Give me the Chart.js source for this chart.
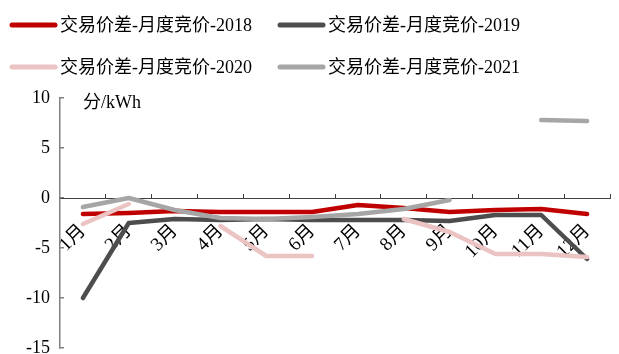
<!DOCTYPE html>
<html>
<head>
<meta charset="utf-8">
<script src="https://cdn.jsdelivr.net/npm/chart.js@4/dist/chart.umd.min.js"></script>
<style>
  html, body { margin: 0; padding: 0; background: #fff; }
  #wrap { width: 619px; height: 354px; }
</style>
</head>
<body>
<div id="wrap"><canvas id="myChart" width="619" height="354"></canvas></div>
<script>
// monthly spread between traded price and monthly auction price, fen/kWh
const months = ['1月', '2月', '3月', '4月', '5月', '6月', '7月', '8月', '9月', '10月', '11月', '12月'];
const seriesNames = ['交易价差-月度竞价-2018', '交易价差-月度竞价-2019', '交易价差-月度竞价-2020', '交易价差-月度竞价-2021'];
const spread2018 = [-1.6, -1.5, -1.3, -1.4, -1.4, -1.4, -0.7, -1.0, -1.4, -1.2, -1.1, -1.6];
const spread2019 = [-10, -2.5, -2.1, -2.2, -2.1, -2.2, -2.2, -2.2, -2.3, -1.7, -1.7, -6.1];
const spread2020 = [-2.6, -0.6, null, -2.8, -5.8, -5.8, null, -2.1, -3.4, -5.6, -5.6, -5.9];
const spread2021 = [-0.9, 0.0, -1.2, -2.0, -2.1, -1.9, -1.6, -1.1, -0.2, null, 7.8, 7.7];
const yTicks = [10, 5, 0, -5, -10, -15];
const unitLabel = '分/kWh';

const colors = ['#c00000', '#4d4d4d', '#ebc3c3', '#a6a6a6'];
const fontFamily = '"Liberation Serif", "Noto Sans CJK SC", serif';

function makeSet(i, data) {
    return {
        label: seriesNames[i],
        data: data,
        borderColor: colors[i],
        backgroundColor: colors[i],
        borderWidth: 4.5,
        borderCapStyle: 'round',
        borderJoinStyle: 'round',
        pointRadius: 0,
        tension: 0,
        spanGaps: false,
        order: 3 - i
    };
}

// legend boxes + unit text drawn straight onto the canvas
const extras = {
    id: 'extras',
    afterDraw(chart) {
        const c = chart.ctx;
        const cols = [10, 278], rows = [25, 67];
        c.save();
        c.font = '18px ' + fontFamily;
        c.textBaseline = 'middle';
        c.textAlign = 'left';
        chart.data.datasets.forEach((ds, i) => {
            const x = cols[i % 2], y = rows[Math.floor(i / 2)];
            c.strokeStyle = ds.borderColor;
            c.lineWidth = 5;
            c.lineCap = 'round';
            c.beginPath();
            c.moveTo(x + 2, y);
            c.lineTo(x + 45, y);
            c.stroke();
            c.fillStyle = '#000';
            c.fillText(ds.label, x + 50, y + 1);
        });
        const area = chart.chartArea;
        c.fillText(unitLabel, area.left + 23, area.top + 5);
        c.restore();
    }
};

const ctx = document.getElementById('myChart').getContext('2d');
const myChart = new Chart(ctx, {
    type: 'line',
    data: {
        labels: months,
        datasets: [makeSet(0, spread2018), makeSet(1, spread2019), makeSet(2, spread2020), makeSet(3, spread2021)]
    },
    options: {
        responsive: false,
        animation: false,
        layout: { padding: { top: 98, right: 9, bottom: 6, left: 0 } },
        plugins: { legend: { display: false }, tooltip: { enabled: false } },
        scales: {
            x: {
                type: 'category',
                offset: true,
                position: { y: 0 },
                grid: { offset: true, drawOnChartArea: false, tickLength: -5, color: '#404040', lineWidth: 1 },
                border: { color: '#404040', width: 1 },
                ticks: {
                    autoSkip: false, minRotation: 45, maxRotation: 45, padding: 27,
                    color: '#000', font: { family: fontFamily, size: 19 }
                },
                afterFit(scale) {
                    scale.height = 0;
                    scale.paddingLeft = 0;
                    scale.paddingRight = 0;
                }
            },
            y: {
                min: -15,
                max: 10,
                afterBuildTicks(scale) {
                    scale.ticks = yTicks.map(v => ({ value: v }));
                },
                grid: { drawOnChartArea: false, tickLength: -4, color: '#808080', lineWidth: 1.5 },
                border: { color: '#808080', width: 1.5 },
                ticks: { padding: 14, color: '#000', font: { family: fontFamily, size: 18 } },
                afterFit(scale) {
                    scale.width = 60;
                    scale.paddingTop = 0;
                    scale.paddingBottom = 0;
                }
            }
        }
    },
    plugins: [extras]
});
</script>
</body>
</html>
